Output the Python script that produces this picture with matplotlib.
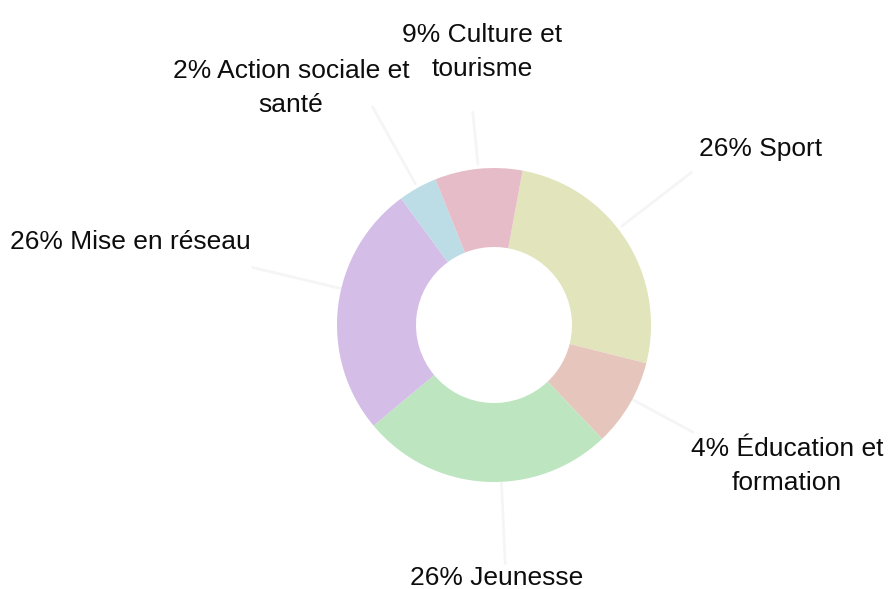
import numpy as np
import matplotlib
matplotlib.use("Agg")
import matplotlib.pyplot as plt
from matplotlib import font_manager

# ── Data ──────────────────────────────────────────────────────────────────────
categories = ["Sport", "Éducation et formation", "Jeunesse",
              "Mise en réseau", "Action sociale et santé", "Culture et tourisme"]
values = [26, 9, 26, 26, 4, 9]
labels = ["26% Sport", "4% Éducation et\nformation", "26% Jeunesse",
          "26% Mise en réseau", "2% Action sociale et\nsanté", "9% Culture et\ntourisme"]
colors = ["#e2e4bc", "#e6c6bc", "#bde6c0", "#d4bde6", "#bcdde6", "#e6bcc8"]

# ── Font: narrow Arial-like if present ────────────────────────────────────────
try:
    font_manager.findfont("Liberation Sans Narrow", fallback_to_default=False)
    FAMILY, FSIZE = "Liberation Sans Narrow", 23
except Exception:
    FAMILY, FSIZE = "Liberation Sans", 19

W, H = 893, 589
CX, CY = 494, 325          # donut centre, pixels from top-left
R, RIN = 157, 78

fig = plt.figure(figsize=(W / 100, H / 100), dpi=100)
ax = fig.add_axes([0, 0, 1, 1])

wedges, _ = ax.pie(values, colors=colors, radius=R, center=(CX, H - CY),
                   startangle=79.5, counterclock=False,
                   wedgeprops=dict(width=R - RIN, linewidth=0))

# pie() resets the limits, so set them afterwards
ax.set_xlim(0, W)
ax.set_ylim(0, H)
ax.set_aspect("equal")
ax.axis("off")

# leader lines near each slice's mid-angle (start / end radius fraction, angle nudge)
leader = [(1.03, 1.59, 5), (1.0, 1.44, 2), (1.0, 1.52, 6),
          (1.0, 1.58, -6.5), (1.03, 1.59, 0), (1.03, 1.36, 0)]
for w, (r0, r1, nudge) in zip(wedges, leader):
    mid = np.deg2rad((w.theta1 + w.theta2) / 2 + nudge)
    xs = CX + R * np.array([r0, r1]) * np.cos(mid)
    ys = H - CY + R * np.array([r0, r1]) * np.sin(mid)
    ax.plot(xs, ys, color="#f5f5f5", lw=2, solid_capstyle="round", zorder=0)

# label anchors (pixel x centre, last-line baseline from top)
label_pos = [(761, 156), (787, 490), (497, 585),
             (130, 249), (291, 112), (482, 76)]
for txt, (x, y) in zip(labels, label_pos):
    ax.text(x, H - y, txt, ha="center", va="baseline", fontsize=FSIZE,
            family=FAMILY, color="#0d0d0d", linespacing=1.5)

fig.savefig("out.png", dpi=100)
